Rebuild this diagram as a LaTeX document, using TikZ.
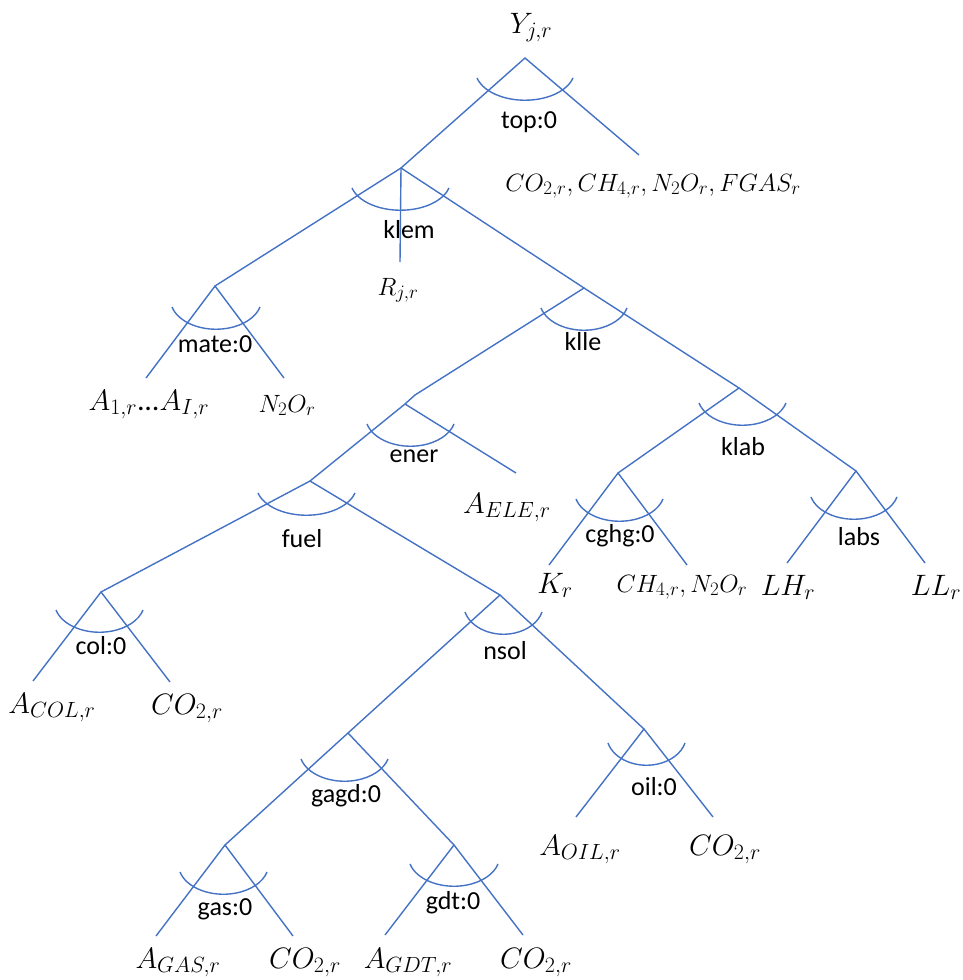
\RequirePackage{fix-cm}
\documentclass[tikz,border=0pt]{standalone}
\usepackage[no-math]{fontspec}
\setmainfont{Carlito}
\DeclareMathSizes{29.5}{29.5}{22}{16}
\DeclareMathSizes{25}{25}{19}{14}
\definecolor{treeblue}{RGB}{68,114,196}
\newcommand\labfont{\fontsize{26}{30}\selectfont}
\newcommand\bigmath{\fontsize{29.5}{34}\selectfont}
\newcommand\smallmath{\fontsize{25}{30}\selectfont}
\newcommand\nestarc[3]{\draw[branch] ({#1-#3},{-#2}) arc[start angle=195,end angle=345,x radius={#3/0.9659},y radius=30];}
\begin{document}
\begin{tikzpicture}[x=1pt,y=1pt,
  branch/.style={draw=treeblue,line width=1.4pt},
  lab/.style={inner sep=0pt,anchor=base,font=\labfont},
  mbig/.style={inner sep=0pt,anchor=base,font=\bigmath},
  msmall/.style={inner sep=0pt,anchor=base,font=\smallmath}]
\useasboundingbox (0,0) rectangle (962,-980);
% apexes and leaf ends
\coordinate (top) at (525,-58);
\coordinate (topR) at (639,-155);
\coordinate (klem) at (401,-168);
\coordinate (klemM) at (400,-262);
\coordinate (mate) at (215,-286);
\coordinate (mateL) at (146,-378);
\coordinate (mateR) at (284,-378);
\coordinate (klle) at (584,-288);
\coordinate (kink) at (415,-395);
\coordinate (ener) at (405,-404);
\coordinate (enerR) at (516,-473);
\coordinate (klab) at (739,-388);
\coordinate (cghg) at (618,-473);
\coordinate (cghgL) at (549,-565);
\coordinate (cghgR) at (687,-565);
\coordinate (labs) at (856,-471);
\coordinate (labsL) at (787,-563);
\coordinate (labsR) at (925,-563);
\coordinate (fuel) at (310,-481);
\coordinate (col) at (101,-592);
\coordinate (colL) at (33,-681);
\coordinate (colR) at (170,-682);
\coordinate (nsol) at (500,-595);
\coordinate (oil) at (644,-729);
\coordinate (oilL) at (576,-817);
\coordinate (oilR) at (713,-817);
\coordinate (gagd) at (348,-733);
\coordinate (gas) at (225,-845);
\coordinate (gasL) at (156,-936);
\coordinate (gasR) at (293,-936);
\coordinate (gdt) at (454,-845);
\coordinate (gdtL) at (385,-935);
\coordinate (gdtR) at (523,-935);
% branches
\draw[branch] (klem) -- (top) -- (topR);
\draw[branch] (mate) -- (klem) -- (klle);
\draw[branch] (klem) -- (klemM);
\draw[branch] (mateL) -- (mate) -- (mateR);
\draw[branch] (ener) -- (kink) -- (klle) -- (klab);
\draw[branch] (fuel) -- (ener) -- (enerR);
\draw[branch] (cghg) -- (klab) -- (labs);
\draw[branch] (cghgL) -- (cghg) -- (cghgR);
\draw[branch] (labsL) -- (labs) -- (labsR);
\draw[branch] (col) -- (fuel) -- (nsol);
\draw[branch] (colL) -- (col) -- (colR);
\draw[branch] (gagd) -- (nsol) -- (oil);
\draw[branch] (oilL) -- (oil) -- (oilR);
\draw[branch] (gas) -- (gagd) -- (gdt);
\draw[branch] (gasL) -- (gas) -- (gasR);
\draw[branch] (gdtL) -- (gdt) -- (gdtR);
% nest arcs
\nestarc{525}{78}{48}
\nestarc{400.5}{188}{48.5}
\nestarc{216}{307}{44}
\nestarc{584}{308}{43}
\nestarc{742.5}{403}{43.5}
\nestarc{619.5}{499}{43.5}
\nestarc{854}{497}{43}
\nestarc{410.5}{424}{43.5}
\nestarc{306.5}{493}{48.5}
\nestarc{99.5}{610}{43.5}
\nestarc{503.5}{612}{38.5}
\nestarc{646.5}{743}{38.5}
\nestarc{344.5}{759}{43.5}
\nestarc{223.5}{872}{43.5}
\nestarc{454}{864}{44}
% nest labels
\node[lab] (ltop) at (529,-128) {top:0};
\node[lab] (lklem) at (409,-238) {klem};
\node[lab] (lmate) at (215,-352) {mate:0};
\node[lab] (lklle) at (583,-350) {klle};
\node[lab] (lklab) at (743,-455) {klab};
\node[lab] (lener) at (414,-462) {ener};
\node[lab] (lcghg) at (620,-542) {cghg:0};
\node[lab] (llabs) at (859,-545) {labs};
\node[lab] (lfuel) at (302,-547) {fuel};
\node[lab] (lcol) at (101,-654) {col:0};
\node[lab] (lnsol) at (505,-659) {nsol};
\node[lab] (lgagd) at (346,-802) {gagd:0};
\node[lab] (loil) at (654,-795) {oil:0};
\node[lab] (lgas) at (225,-915) {gas:0};
\node[lab] (lgdt) at (453,-909) {gdt:0};
% goods labels
\node[mbig] (tY) at (531,-33) {$Y_{j,r}$};
\node[msmall] (tEm) at (653,-191) {$CO_{2,r},CH_{4,r},N_2O_r,FGAS_r$};
\node[msmall] (tR) at (398,-295) {$R_{j,r}$};
\node[mbig] (tA1) at (149,-410) {$A_{1,r}$\kern1pt…\kern1pt$A_{I,r}$};
\node[msmall] (tN2O) at (287,-412) {$N_2O_r$};
\node[mbig] (tAELE) at (507,-513) {$A_{ELE,r}$};
\node[mbig] (tK) at (555,-593) {$K_r$};
\node[msmall] (tCH4) at (682,-592) {$CH_{4,r},N_2O_r$};
\node[mbig] (tLH) at (788,-595) {$LH_r$};
\node[mbig] (tLL) at (936,-595) {$LL_r$};
\node[mbig] (tACOL) at (52,-713) {$A_{COL,r}$};
\node[mbig] (tCO2a) at (187,-714) {$CO_{2,r}$};
\node[mbig] (tAOIL) at (580,-855) {$A_{OIL,r}$};
\node[mbig] (tCO2b) at (725,-855) {$CO_{2,r}$};
\node[mbig] (tAGAS) at (178,-968) {$A_{GAS,r}$};
\node[mbig] (tCO2c) at (305,-968) {$CO_{2,r}$};
\node[mbig] (tAGDT) at (408,-968) {$A_{GDT,r}$};
\node[mbig] (tCO2d) at (536,-968) {$CO_{2,r}$};
\end{tikzpicture}
\end{document}
